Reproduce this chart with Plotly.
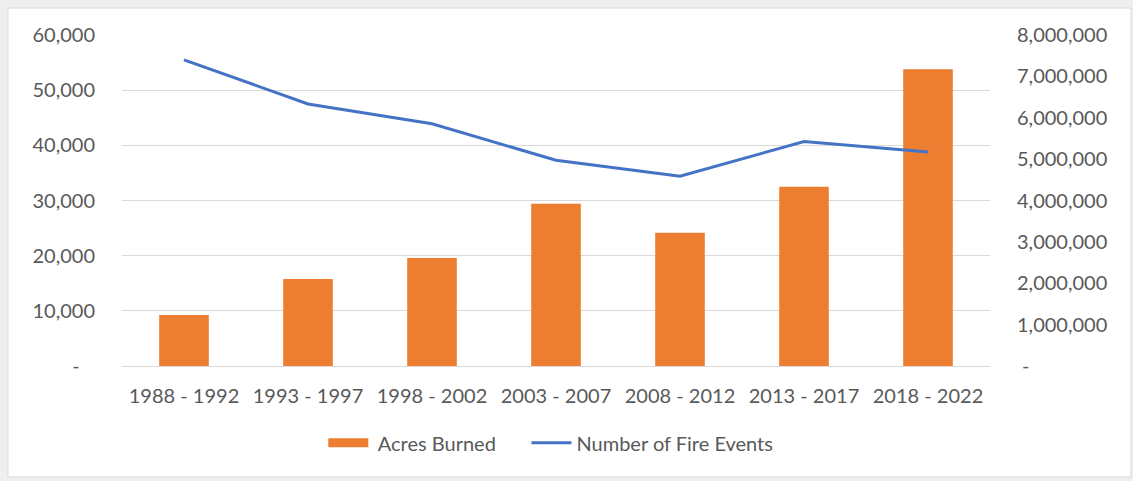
import plotly.graph_objects as go

categories = ["1988 - 1992", "1993 - 1997", "1998 - 2002", "2003 - 2007",
              "2008 - 2012", "2013 - 2017", "2018 - 2022"]
acres_burned = [1230000, 2100000, 2610000, 3920000, 3220000, 4330000, 7170000]
fire_events = [55500, 47500, 43900, 37300, 34400, 40700, 38800]

left_ticks = [0, 10000, 20000, 30000, 40000, 50000, 60000]
left_text = ["-\u00a0\u00a0\u00a0", "10,000", "20,000", "30,000", "40,000", "50,000", "60,000"]
right_ticks = [0, 1000000, 2000000, 3000000, 4000000, 5000000, 6000000, 7000000, 8000000]
right_text = ["\u00a0-", "1,000,000", "2,000,000", "3,000,000", "4,000,000",
              "5,000,000", "6,000,000", "7,000,000", "8,000,000"]

W, H = 1133, 481
ml, mr, mt, mb = 122, 143, 35, 115
pw, ph = W - ml - mr, H - mt - mb

FONT = "Lato"
TXT = "#595959"
FS = 20

fig = go.Figure()
fig.add_trace(go.Bar(x=categories, y=acres_burned, name="Acres Burned",
                     marker=dict(color="#ED7D31", line=dict(width=0)),
                     yaxis="y", showlegend=False))
# legend swatch for the bars (wide rectangle like the original)
fig.add_trace(go.Scatter(x=[None], y=[None],
                         name="\u00a0Acres Burned\u00a0\u00a0\u00a0\u00a0\u00a0",
                         mode="lines", line=dict(color="#ED7D31", width=9),
                         yaxis="y", hoverinfo="skip"))
fig.add_trace(go.Scatter(x=categories, y=fire_events, name="Number of Fire Events",
                         mode="lines", line=dict(color="#4472C4", width=3),
                         yaxis="y2"))

# white chart area with light border on grey background
fig.add_shape(type="rect", xref="paper", yref="paper", layer="below",
              x0=(8 - ml) / pw, x1=(1131 - ml) / pw,
              y0=(H - mb - 477) / ph, y1=(H - mb - 8) / ph,
              fillcolor="white", line=dict(color="#D9D9D9", width=1))

fig.update_layout(
    width=W, height=H,
    margin=dict(l=ml, r=mr, t=mt, b=mb),
    paper_bgcolor="#EFEFEF",
    plot_bgcolor="rgba(0,0,0,0)",
    font=dict(family=FONT, size=FS, color=TXT),
    bargap=0.6,
    showlegend=True,
    legend=dict(orientation="h", x=0.494, xanchor="center", y=-0.232, yanchor="middle",
                font=dict(family=FONT, size=FS, color=TXT), bgcolor="rgba(0,0,0,0)",
                itemwidth=40, traceorder="normal"),
    xaxis=dict(showgrid=False, showline=False, ticks="", tickfont=dict(size=FS, color=TXT),
               ticklabelstandoff=16),
    yaxis=dict(side="right", range=[0, 8000000], tickvals=right_ticks, ticktext=right_text,
               showgrid=False, zeroline=False, showline=False,
               tickfont=dict(size=FS, color=TXT), ticklabelstandoff=26),
    yaxis2=dict(side="left", overlaying="y", range=[0, 60000], tickvals=left_ticks,
                ticktext=left_text, showgrid=True, gridcolor="#D9D9D9", gridwidth=1,
                zeroline=True, zerolinecolor="#D9D9D9", zerolinewidth=1, showline=False,
                tickfont=dict(size=FS, color=TXT), ticklabelstandoff=26),
)

fig.write_html("out.html")
